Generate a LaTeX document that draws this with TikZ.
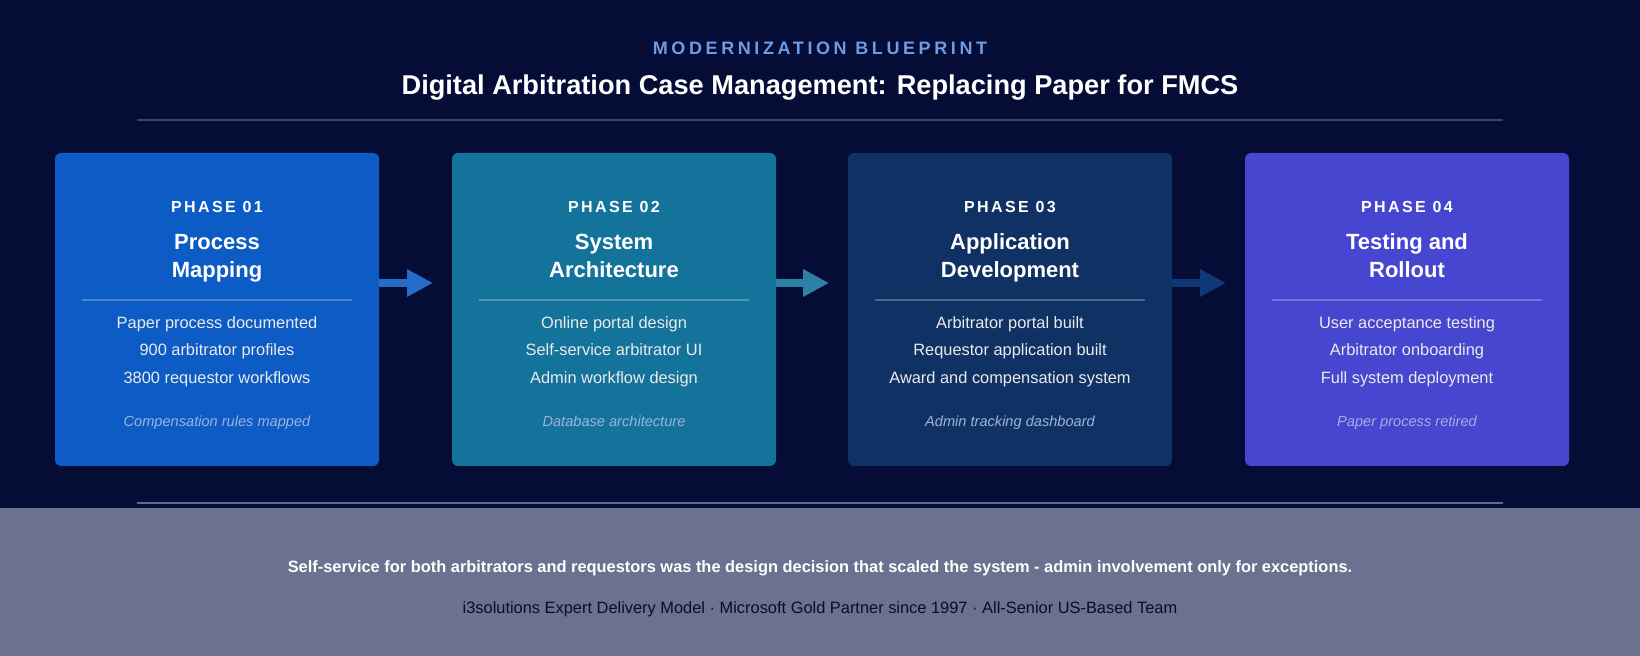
\documentclass[tikz,border=0pt]{standalone}
\usepackage{fontspec}
\setmainfont{Liberation Sans}
\usetikzlibrary{arrows.meta}
\definecolor{bg}{HTML}{050C35}
\definecolor{band}{HTML}{6A728F}
\definecolor{kick}{HTML}{6E9BE6}
\definecolor{rule}{HTML}{3A4470}
\definecolor{cA}{HTML}{0D5BC4}
\definecolor{cB}{HTML}{14739A}
\definecolor{cC}{HTML}{0F3163}
\definecolor{cD}{HTML}{4646D0}
\definecolor{notec}{HTML}{9DB3DD}
\begin{document}
\begin{tikzpicture}[x=0.5pt,y=-0.5pt,
  box/.style={rounded corners=3pt,draw=none},
  phase/.style={text=white,anchor=base,font=\fontsize{8}{10}\selectfont\bfseries\addfontfeature{LetterSpace=15}},
  ttl/.style={text=white,anchor=base,font=\fontsize{11}{13}\selectfont\bfseries},
  item/.style={text=white!92!black,anchor=base,font=\fontsize{8.2}{10}\selectfont},
  note/.style={text=notec,anchor=base,font=\fontsize{7.3}{9}\selectfont\itshape},
  arr/.style={line width=4pt,-{Triangle[length=13pt,width=13pt]}}]
\useasboundingbox (0,0) rectangle (1640,656);
\fill[bg] (0,0) rectangle (1640,656);
\fill[band] (0,508) rectangle (1640,656);
\node[text=kick,font=\fontsize{9}{11}\selectfont\bfseries\addfontfeature{LetterSpace=20}] (kick) at (820,48) {MODERNIZATION BLUEPRINT};
\node[text=white,font=\fontsize{13.6}{16}\selectfont\bfseries] (title) at (820,88) {Digital Arbitration Case Management: Replacing Paper for FMCS};
\draw[rule,line width=1pt] (137,120) -- (1503,120);
\draw[rule!80!white,line width=1pt] (137,503) -- (1503,503);
\foreach \i/\x/\c/\n/\ta/\tb/\ia/\ib/\ic/\no in {
 1/55/cA/01/Process/Mapping/Paper process documented/900 arbitrator profiles/3800 requestor workflows/Compensation rules mapped,
 2/452/cB/02/System/Architecture/Online portal design/Self-service arbitrator UI/Admin workflow design/Database architecture,
 3/848/cC/03/Application/Development/Arbitrator portal built/Requestor application built/Award and compensation system/Admin tracking dashboard,
 4/1245/cD/04/Testing and/Rollout/User acceptance testing/Arbitrator onboarding/Full system deployment/Paper process retired}{
  \fill[box,\c] (\x,153) rectangle ++(324,313);
  \node[phase] (p\i) at (\x+162,213) {PHASE \n};
  \node[ttl] (t\i) at (\x+162,250) {\ta};
  \node[ttl] (u\i) at (\x+162,278) {\tb};
  \draw[white,opacity=0.25,line width=1pt] (\x+27,300) -- (\x+297,300);
  \node[item] (ia\i) at (\x+162,329) {\ia};
  \node[item] (ib\i) at (\x+162,356) {\ib};
  \node[item] (ic\i) at (\x+162,384) {\ic};
  \node[note] (n\i) at (\x+162,427) {\no};
}
\coordinate (a1s) at (379,283); \coordinate (a1e) at (433,283);
\coordinate (a2s) at (776,283); \coordinate (a2e) at (829,283);
\coordinate (a3s) at (1172,283); \coordinate (a3e) at (1226,283);
\draw[arr,cA!90!white] (a1s) -- (a1e);
\draw[arr,cB!90!white] (a2s) -- (a2e);
\draw[arr,cC!80!cA] (a3s) -- (a3e);
\node[text=white,font=\fontsize{8.2}{10}\selectfont\bfseries] (q) at (820,568) {Self-service for both arbitrators and requestors was the design decision that scaled the system - admin involvement only for exceptions.};
\node[text=bg,font=\fontsize{8.2}{10}\selectfont] (f) at (820,609) {i3solutions Expert Delivery Model · Microsoft Gold Partner since 1997 · All-Senior US-Based Team};
\end{tikzpicture}
\end{document}
